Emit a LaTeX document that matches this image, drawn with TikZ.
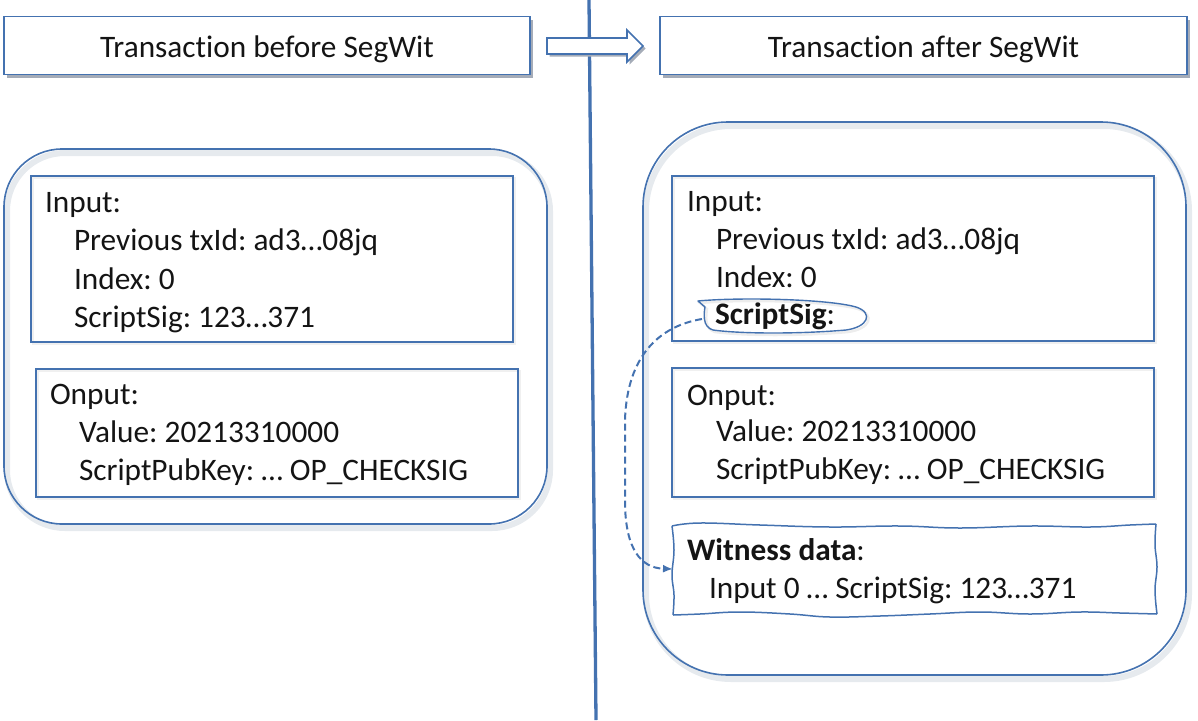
\documentclass[tikz,border=0pt]{standalone}
\usepackage{fontspec}
\setmainfont{Carlito}[Ligatures={NoCommon,NoContextual},RawFeature={-liga;-clig;-dlig;-calt}]
\usetikzlibrary{arrows.meta}
\definecolor{edge}{RGB}{68,114,176}
\definecolor{shlight}{RGB}{230,234,238}
\definecolor{shdark}{RGB}{165,172,184}
\newcommand\txtsize{\fontsize{31.3pt}{37pt}\selectfont}
\frenchspacing
\begin{document}
\begin{tikzpicture}[x=1pt,y=-1pt,
  ttl/.style={draw=edge, line width=1.8pt, fill=white, inner sep=0pt, outer sep=0pt,
    preaction={fill=shdark, transform canvas={shift={(3pt,-3pt)}}}},
  cont/.style={draw=edge, line width=1.6pt, inner sep=0pt, outer sep=0pt,
    preaction={draw=shlight, line width=6pt, transform canvas={shift={(3pt,-4pt)}}}},
  box/.style={draw=edge, line width=1.3pt, inner sep=0pt, outer sep=0pt,
    preaction={draw=black!6, line width=2.5pt, transform canvas={shift={(2pt,-2pt)}}}},
  txt/.style={anchor=base west, inner sep=0pt, outer sep=0pt, font=\txtsize, text=black!92},
  ttltxt/.style={anchor=base, inner sep=0pt, font=\txtsize, text=black!92},
  wline/.style={draw=edge, line width=1.5pt, line join=round},
  divider/.style={draw=edge, line width=3.3pt},
  blockarrow/.style={draw=edge, line width=1.6pt, fill=white, line join=miter,
    preaction={fill=shdark, transform canvas={shift={(2.5pt,-2.5pt)}}}},
  dashconn/.style={draw=edge, line width=2pt, dash pattern=on 7pt off 4pt,
    -{Latex[length=10pt,width=8pt]}}
]
\useasboundingbox (0,0) rectangle (1198,720);

% divider line
\coordinate (vtop) at (589,0);
\coordinate (vbot) at (596,720);
\draw[divider] (vtop) -- (vbot);

% block arrow
\draw[blockarrow] (547,38) -- (627,38) -- (627,30) -- (643,46) -- (627,62) -- (627,54) -- (547,54) -- cycle;

% title boxes
\node[ttl, minimum width=526pt, minimum height=58pt] (ltitle) at (267,45.5) {};
\node[ttl, minimum width=527pt, minimum height=58pt] (rtitle) at (923.5,45.5) {};
\node[ttltxt] (ltitletxt) at (267,57.5) {Transaction before SegWit};
\node[ttltxt] (rtitletxt) at (923.5,57.5) {Transaction after SegWit};

% containers
\node[cont, rounded corners=58pt, minimum width=543pt, minimum height=375pt] (lcont) at (275.5,336.5) {};
\node[cont, rounded corners=85pt, minimum width=543pt, minimum height=553pt] (rcont) at (914.5,398.5) {};

% inner boxes
\node[box, minimum width=482pt, minimum height=166pt] (lin) at (272,259) {};
\node[box, minimum width=482pt, minimum height=128pt] (lout) at (277,433) {};
\node[box, minimum width=482pt, minimum height=165pt] (rin) at (913,258.5) {};
\node[box, minimum width=482pt, minimum height=129pt] (rout) at (913,432.5) {};
\node[inner sep=0pt, outer sep=0pt, minimum width=483pt, minimum height=90pt] (wit) at (914.5,569) {};

% witness wavy outline
\draw[wline] plot[smooth, tension=0.7] coordinates {(672,526) (700,523) (760,525) (830,527) (900,526) (960,528) (1030,526) (1090,527) (1130,525) (1156,524)};
\draw[wline] plot[smooth, tension=0.7] coordinates {(1156,524) (1155,545) (1157,567) (1155,590) (1157,614)};
\draw[wline] plot[smooth, tension=0.7] coordinates {(1157,614) (1120,613) (1080,612) (1030,614) (980,612) (930,614) (880,616) (830,617) (790,614) (740,612) (700,614) (673,615)};
\draw[wline] plot[smooth, tension=0.7] coordinates {(673,615) (674,595) (672,575) (674,550) (672,526)};

% left texts
\node[txt] (l1) at (45,212) {Input:};
\node[txt] (l2) at (74,250) {Previous txId: ad3…08jq};
\node[txt] (l3) at (74,289) {Index: 0};
\node[txt] (l4) at (74,327) {ScriptSig: 123…371};
\node[txt] (l5) at (50,404) {Onput:};
\node[txt] (l6) at (79,442) {Value: 20213310000};
\node[txt] (l7) at (79,480) {ScriptPubKey: … OP\_CHECKSIG};

% right texts
\node[txt] (r1) at (687,211) {Input:};
\node[txt] (r2) at (716,249) {Previous txId: ad3…08jq};
\node[txt] (r3) at (716,287) {Index: 0};
\node[txt] (r4) at (715,324) {\bfseries ScriptSig\mdseries:};
\node[txt] (r5) at (687,405) {Onput:};
\node[txt] (r6) at (716,441) {Value: 20213310000};
\node[txt] (r7) at (716,479) {ScriptPubKey: … OP\_CHECKSIG};
\node[txt] (r8) at (687,560) {\bfseries Witness data\mdseries:};
\node[txt] (r9) at (709,598) {Input 0 … ScriptSig: 123…371};

% blob around ScriptSig
\draw[draw=edge, line width=1.4pt, line join=round,
  preaction={draw=black!7, line width=2.5pt, transform canvas={shift={(2pt,-2pt)}}}]
  (698,301) .. controls (740,297) and (828,299) .. (856,307)
  .. controls (874,313) and (868,327) .. (846,330)
  .. controls (800,334) and (742,334) .. (713,330)
  .. controls (702,327) and (704,313) .. (705,307) -- cycle;

% dashed connector
\coordinate (sstail) at (702,319);
\draw[dashconn] (sstail) .. controls (660,326) and (627,355) .. (625,420)
  -- (625,505) .. controls (626,548) and (640,568) .. (wit.west);
\end{tikzpicture}
\end{document}
